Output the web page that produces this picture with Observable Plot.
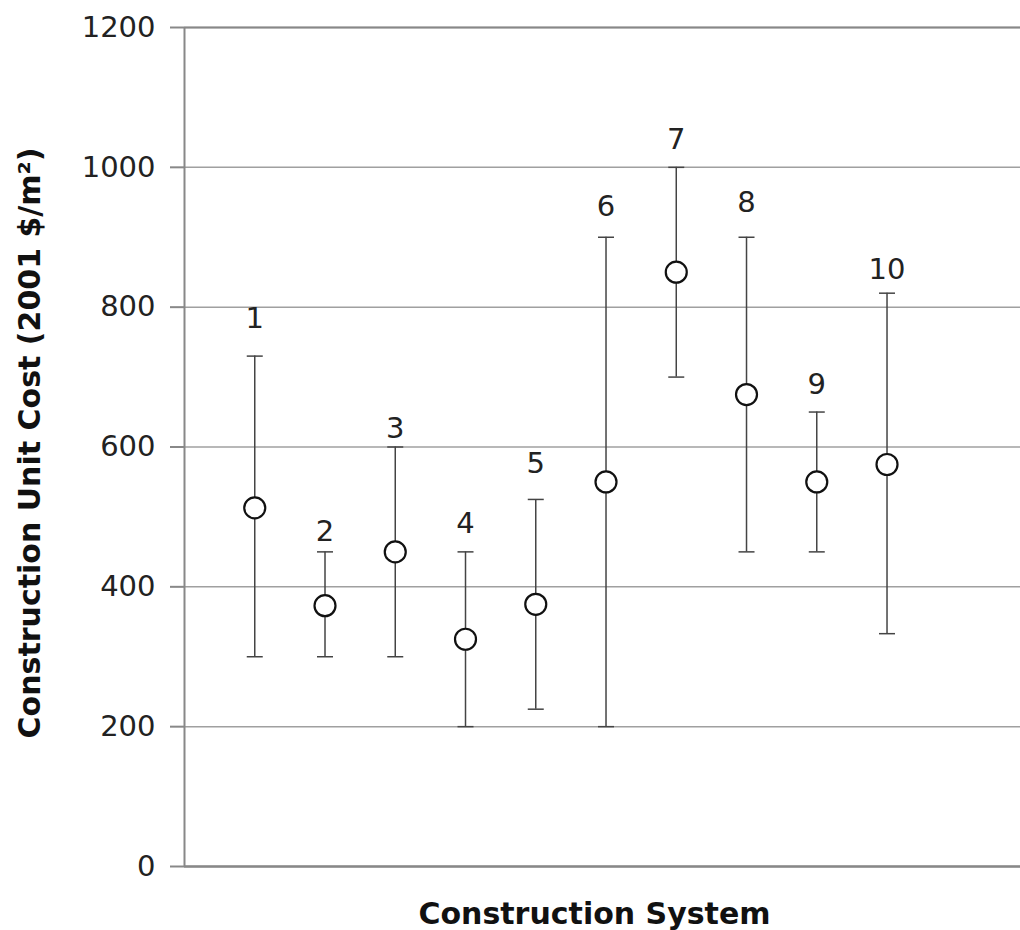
<!DOCTYPE html>
<html><head><meta charset="utf-8">
<script src="https://cdn.jsdelivr.net/npm/d3@7"></script>
<script src="https://cdn.jsdelivr.net/npm/@observablehq/plot@0.6"></script>
<style>html,body{margin:0;padding:0;background:#fff}</style>
</head><body><div id="chart"></div>
<script>
const systems  = [1, 2, 3, 4, 5, 6, 7, 8, 9, 10];
const meanCost = [513, 373, 450, 325, 375, 550, 850, 675, 550, 575];
const lowCost  = [300, 300, 300, 200, 225, 200, 700, 450, 450, 333];
const highCost = [730, 450, 600, 450, 525, 900, 1000, 900, 650, 820];
const labelY   = [783, 479, 626, 490, 576, 943, 1039, 949, 689, 853];
const yTicks   = [0, 200, 400, 600, 800, 1000, 1200];
const yTitle = "Construction Unit Cost (2001 $/m²)";
const xTitle = "Construction System";

const data = systems.map((s, i) => ({system: s, mean: meanCost[i], low: lowCost[i], high: highCost[i], ly: labelY[i]}));

const capSymbol = {draw(ctx) { ctx.moveTo(-8, 0); ctx.lineTo(8, 0); }};

const chart = Plot.plot({
  width: 1020, height: 930,
  marginLeft: 184, marginRight: 0, marginTop: 27, marginBottom: 64,
  style: {fontFamily: "DejaVu Sans, sans-serif", background: "#fff", color: "#222"},
  x: {domain: [0, 11.9], axis: null},
  y: {domain: [0, 1200], axis: null},
  marks: [
    Plot.ruleY(yTicks, {stroke: "#a0a0a0", strokeWidth: 1.5}),
    Plot.axisY({ticks: yTicks, tickSize: 14, tickPadding: 15, fontSize: 29, stroke: "#888", strokeWidth: 2, fill: "#222", label: null, tickFormat: d => String(d)}),
    Plot.ruleX([0], {stroke: "#888", strokeWidth: 2}),
    Plot.ruleY([0], {stroke: "#888", strokeWidth: 2.5}),
    Plot.ruleY([1200], {stroke: "#888", strokeWidth: 2}),
    Plot.ruleX(data, {x: "system", y1: "low", y2: "high", stroke: "#444", strokeWidth: 1.5}),
    Plot.dot(data, {x: "system", y: "low", symbol: capSymbol, fill: "none", stroke: "#444", strokeWidth: 1.5}),
    Plot.dot(data, {x: "system", y: "high", symbol: capSymbol, fill: "none", stroke: "#444", strokeWidth: 1.5}),
    Plot.dot(data, {x: "system", y: "mean", r: 10.5, fill: "white", stroke: "#111", strokeWidth: 2.2}),
    Plot.text(data, {x: "system", y: "ly", text: d => String(d.system), fontSize: 29, fill: "#222"}),
    Plot.text([yTitle], {frameAnchor: "left", dx: -154, dy: -4, rotate: -90, textAnchor: "middle", lineAnchor: "middle", fontSize: 30, fontWeight: "bold", fill: "#111"}),
    Plot.text([xTitle], {frameAnchor: "bottom", dx: -8, dy: 48, textAnchor: "middle", lineAnchor: "middle", fontSize: 30, fontWeight: "bold", fill: "#111"})
  ]
});
document.getElementById("chart").appendChild(chart);
</script>
</body></html>
